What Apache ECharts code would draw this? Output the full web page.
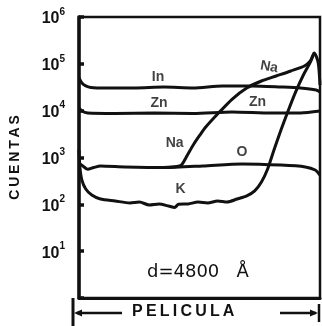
<!DOCTYPE html>
<html>
<head>
<meta charset="utf-8">
<script src="https://cdn.jsdelivr.net/npm/echarts@6/dist/echarts.min.js"></script>
<style>
  html, body { margin: 0; padding: 0; background: #fff; }
  #chart { width: 322px; height: 326px; }
</style>
</head>
<body>
<div id="chart"></div>
<script>
// Depth profile through the film: x = position across the film (0 = surface side, 100 = far side),
// y = counts on a logarithmic scale.
const inCounts = [
  [0, 50000], [1.2, 39000], [2.8, 33700], [4.9, 31300], [10.9, 30500], [23.1, 30500],
  [35.2, 32000], [47.4, 30500], [59.5, 33700], [71.7, 33700], [83.8, 32000],
  [91.9, 30500], [98.4, 27700], [100, 25000]
];
const znCounts = [
  [0, 11400], [1.2, 9800], [3.6, 8900], [15, 8700], [31.2, 8900], [47.4, 8700],
  [63.6, 9400], [79.8, 8900], [91.9, 8900], [100, 9800]
];
const oCounts = [
  [0, 760], [1.6, 660], [3.6, 560], [6.1, 610], [8.9, 660], [19, 630], [35.2, 610],
  [51.4, 660], [67.6, 730], [83.8, 690], [93.9, 630], [98, 540], [100, 420]
];
const naCounts = [
  [35.2, 610], [40.5, 640], [42.5, 690], [45, 1130], [47.4, 1850],
  [50.2, 3030], [52.6, 4480], [57.9, 8900], [63.6, 17700], [69.6, 30500], [75.7, 43000],
  [81.8, 55000], [87.9, 70400], [93.5, 90000], [96, 115000], [97.6, 170000],
  [99.2, 109000], [100, 35300]
];
const kCounts = [
  [0, 1450], [0.4, 600], [1.2, 330], [2.8, 213], [5.3, 158], [8.9, 130], [15, 118],
  [21.1, 107], [25.1, 112], [29.1, 97], [33.2, 102], [37.2, 92], [39.7, 86], [41.3, 100],
  [45.3, 102], [49.4, 112], [53.4, 107], [57.5, 118], [61.5, 112], [65.6, 130],
  [69.6, 151], [72.9, 193], [75.7, 300], [78.1, 540], [80.9, 1450], [83.8, 3870],
  [86.6, 9370], [89.9, 25100], [93.1, 57800], [96, 109000], [97.6, 170000]
];
const yTickExponents = [1, 2, 3, 4, 5, 6];

// Element tags written beside the curves
const tagNames = ['In', 'Na', 'Zn', 'Zn', 'Na', 'O', 'K'];
const tagSpots = [[32.8, 52400], [78.9, 85700], [33.2, 14600], [74.1, 15300], [39.7, 2040], [67.6, 1310], [42.1, 213]];
const tagRotate = [0, -10, 0, 0, 0, 0, 0];

const ink = '#111';
const chart = echarts.init(document.getElementById('chart'), null, { renderer: 'canvas' });

function curve(name, data) {
  return {
    name, type: 'line', data, showSymbol: false, smooth: 0.25,
    lineStyle: { color: ink, width: 3 }, silent: true, z: 3
  };
}

const G = { left: 73, top: 17, right: 2, bottom: 28 };
const W = 322, H = 326;
const gx0 = G.left, gx1 = W - G.right, gy1 = H - G.bottom;
const arrowY = 313;

chart.setOption({
  animation: false,
  backgroundColor: '#fff',
  grid: { left: G.left, right: G.right, top: G.top, bottom: G.bottom, show: true, borderColor: ink, borderWidth: 2.5 },
  xAxis: {
    type: 'value', min: 0, max: 100,
    axisLine: { show: true, lineStyle: { color: ink, width: 3 } },
    axisTick: { show: false }, axisLabel: { show: false }, splitLine: { show: false }
  },
  yAxis: {
    type: 'log', logBase: 10, min: 1, max: 1e6, splitNumber: 6,
    name: 'C\u2009U\u2009E\u2009N\u2009T\u2009A\u2009S', nameLocation: 'middle', nameGap: 57, nameRotate: 90,
    nameTextStyle: { color: ink, fontFamily: 'Liberation Sans', fontWeight: 'bold', fontSize: 14 },
    axisLine: { show: true, lineStyle: { color: ink, width: 3.5 } },
    axisTick: { show: true, inside: true, length: 5, lineStyle: { color: ink, width: 3.5 } },
    splitLine: { show: false },
    axisLabel: {
      margin: 14,
      formatter: function (v) {
        const e = Math.round(Math.log10(v));
        if (yTickExponents.indexOf(e) < 0) return '';
        return '{b|10}{s|' + e + '}';
      },
      rich: {
        b: { fontFamily: 'Liberation Sans', fontWeight: 'bold', fontSize: 16, color: ink, lineHeight: 20, verticalAlign: 'bottom' },
        s: { fontFamily: 'Liberation Sans', fontWeight: 'bold', fontSize: 10, color: ink, lineHeight: 20, verticalAlign: 'top' }
      }
    }
  },
  series: [
    curve('In', inCounts),
    curve('Zn', znCounts),
    curve('O', oCounts),
    curve('Na', naCounts),
    curve('K', kCounts),
    {
      type: 'scatter', symbolSize: 0, silent: true, z: 5,
      data: tagNames.map((n, i) => ({
        name: n, value: tagSpots[i],
        label: { rotate: tagRotate[i] }
      })),
      label: {
        show: true, position: 'inside', formatter: '{b}', color: ink,
        fontFamily: 'Liberation Sans', fontWeight: 'bold', fontSize: 14
      }
    }
  ],
  graphic: [
    { type: 'text', left: 147, top: 263, silent: true,
      style: { text: 'd=4800   Å', fill: ink, font: '18px "DejaVu Sans"' } },
    // film span arrow under the axis
    { type: 'line', silent: true, shape: { x1: gx0, y1: gy1, x2: gx0, y2: H }, style: { stroke: ink, lineWidth: 3 } },
    { type: 'line', silent: true, shape: { x1: gx1 - 1, y1: 304, x2: gx1 - 1, y2: 322 }, style: { stroke: ink, lineWidth: 2.5 } },
    { type: 'line', silent: true, shape: { x1: gx0 + 4, y1: arrowY, x2: 122, y2: arrowY }, style: { stroke: ink, lineWidth: 2.5 } },
    { type: 'polygon', silent: true, shape: { points: [[gx0 + 1, arrowY], [gx0 + 9, arrowY - 3.5], [gx0 + 9, arrowY + 3.5]] }, style: { fill: ink } },
    { type: 'line', silent: true, shape: { x1: 280, y1: arrowY, x2: gx1 - 4, y2: arrowY }, style: { stroke: ink, lineWidth: 2.5 } },
    { type: 'polygon', silent: true, shape: { points: [[gx1 - 2, arrowY], [gx1 - 10, arrowY - 3.5], [gx1 - 10, arrowY + 3.5]] }, style: { fill: ink } },
    { type: 'text', left: 132, top: 304, silent: true,
      style: { text: 'P\u2009E\u2009L\u2009I\u2009C\u2009U\u2009L\u2009A', fill: ink, font: 'bold 16px "Liberation Sans"' } }
  ]
});
</script>
</body>
</html>
